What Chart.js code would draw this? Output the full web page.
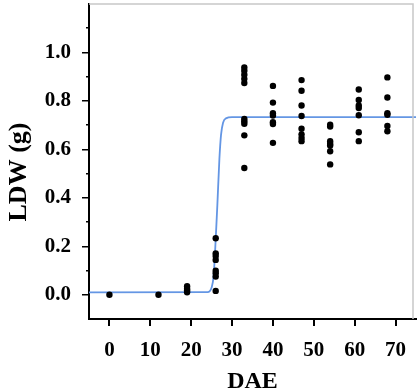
<!DOCTYPE html>
<html>
<head>
<meta charset="utf-8">
<script src="https://cdn.jsdelivr.net/npm/chart.js@4/dist/chart.umd.min.js"></script>
<style>
  body { margin: 0; background: #fff; }
  canvas { display: block; }
</style>
</head>
<body>
<canvas id="ldwChart" width="420" height="392"></canvas>
<script>
// measured leaf dry weight per sampling day (DAE)
const day0 = [0.0];
const day12 = [0.0];
const day19 = [0.035, 0.025, 0.018, 0.01];
const day26 = [0.233, 0.171, 0.16, 0.144, 0.099, 0.089, 0.075, 0.016];
const day33 = [0.938, 0.925, 0.908, 0.891, 0.874, 0.726, 0.716, 0.706, 0.658, 0.523];
const day40 = [0.862, 0.793, 0.749, 0.740, 0.712, 0.705, 0.627];
const day47 = [0.886, 0.842, 0.781, 0.738, 0.685, 0.662, 0.647, 0.634];
const day54 = [0.702, 0.694, 0.634, 0.623, 0.616, 0.592, 0.538];
const day61 = [0.847, 0.804, 0.781, 0.771, 0.741, 0.671, 0.634];
const day68 = [0.897, 0.814, 0.749, 0.743, 0.697, 0.675];

const sampleDays = [0, 12, 19, 26, 33, 40, 47, 54, 61, 68];
const sampleValues = [day0, day12, day19, day26, day33, day40, day47, day54, day61, day68];

// fitted curve
const fitX = [-5, 24, 25, 25.5, 26, 26.4, 26.9, 27.3, 27.8, 28.5, 30, 75];
const fitY = [0.01, 0.011, 0.03, 0.08, 0.23, 0.37, 0.56, 0.66, 0.71, 0.728, 0.733, 0.733];

const xTicks = [0, 10, 20, 30, 40, 50, 60, 70];
const yTicks = [0, 0.2, 0.4, 0.6, 0.8, 1.0];
const yMinorTicks = [0.1, 0.3, 0.5, 0.7, 0.9, 1.1];
const yLabels = ['0.0', '0.2', '0.4', '0.6', '0.8', '1.0'];

const points = [];
sampleDays.forEach((d, i) => {
  sampleValues[i].forEach(v => points.push({ x: d, y: v }));
});
const fitLine = fitX.map((x, i) => ({ x: x, y: fitY[i] }));

const serif = 'Liberation Serif, Times New Roman, serif';

// light grey frame on top and right, plus the y title
const framePlugin = {
  id: 'frame',
  afterDraw(chart) {
    const a = chart.chartArea;
    const ctx = chart.ctx;
    ctx.save();
    ctx.strokeStyle = '#c8c8c8';
    ctx.lineWidth = 1.5;
    ctx.beginPath();
    ctx.moveTo(a.left, a.top);
    ctx.lineTo(a.right - 3, a.top);
    ctx.lineTo(a.right - 3, a.bottom);
    ctx.stroke();

    ctx.translate(19, 172);
    ctx.rotate(-Math.PI / 2);
    ctx.fillStyle = '#000';
    ctx.font = 'bold 26px ' + serif;
    ctx.textAlign = 'center';
    ctx.textBaseline = 'middle';
    ctx.fillText('LDW (g)', 0, 0);
    ctx.restore();
  }
};

const ctx = document.getElementById('ldwChart').getContext('2d');
new Chart(ctx, {
  type: 'scatter',
  data: {
    datasets: [
      {
        label: 'fit',
        data: fitLine,
        showLine: true,
        borderColor: 'rgb(100, 150, 228)',
        borderWidth: 1.8,
        pointRadius: 0,
        cubicInterpolationMode: 'monotone',
        order: 2
      },
      {
        label: 'LDW',
        data: points,
        backgroundColor: '#000',
        borderColor: '#000',
        pointRadius: 3.2,
        borderWidth: 0,
        order: 1
      }
    ]
  },
  options: {
    responsive: false,
    animation: false,
    devicePixelRatio: 1,
    layout: { padding: { top: 3, right: 4, left: 0, bottom: 0 } },
    plugins: { legend: { display: false }, tooltip: { enabled: false } },
    scales: {
      x: {
        type: 'linear',
        min: -5,
        max: 75,
        afterFit: (s) => { s.height = 73; s.paddingLeft = 0; s.paddingRight = 0; },
        afterBuildTicks: (axis) => { axis.ticks = xTicks.map(v => ({ value: v })); },
        border: { display: true, color: '#000', width: 2 },
        grid: { drawOnChartArea: false, drawTicks: true, tickLength: 7, color: '#000', lineWidth: 2 },
        ticks: {
          color: '#000',
          padding: 12,
          maxRotation: 0,
          font: { family: serif, size: 21, weight: 'bold' }
        },
        title: {
          display: true,
          text: 'DAE',
          color: '#000',
          padding: { top: 0, bottom: -2 },
          font: { family: serif, size: 24, weight: 'bold', lineHeight: 1 }
        }
      },
      y: {
        type: 'linear',
        weight: 1,
        min: -0.1,
        max: 1.2,
        afterFit: (s) => { s.width = 89; s.paddingTop = 0; s.paddingBottom = 0; },
        afterBuildTicks: (axis) => { axis.ticks = yTicks.map(v => ({ value: v })); },
        border: { display: true, color: '#000', width: 2 },
        grid: { drawOnChartArea: false, drawTicks: true, tickLength: 7, color: '#000', lineWidth: 1.5 },
        ticks: {
          color: '#000',
          padding: 11,
          autoSkip: false,
          font: { family: serif, size: 21, weight: 'bold' },
          callback: (value) => {
            const t = (Math.round(value * 10) / 10).toFixed(1);
            return yLabels.includes(t) ? t : '';
          }
        }
      },
      yMinor: {
        type: 'linear',
        position: 'left',
        weight: 0,
        min: -0.1,
        max: 1.2,
        afterFit: (s) => { s.width = 0; s.paddingTop = 0; s.paddingBottom = 0; },
        afterBuildTicks: (axis) => { axis.ticks = yMinorTicks.map(v => ({ value: v })); },
        border: { display: false },
        grid: { drawOnChartArea: false, drawTicks: true, tickLength: 3, color: '#000', lineWidth: 1.5 },
        ticks: { padding: 0, callback: () => '' }
      }
    }
  },
  plugins: [framePlugin]
});
</script>
</body>
</html>
